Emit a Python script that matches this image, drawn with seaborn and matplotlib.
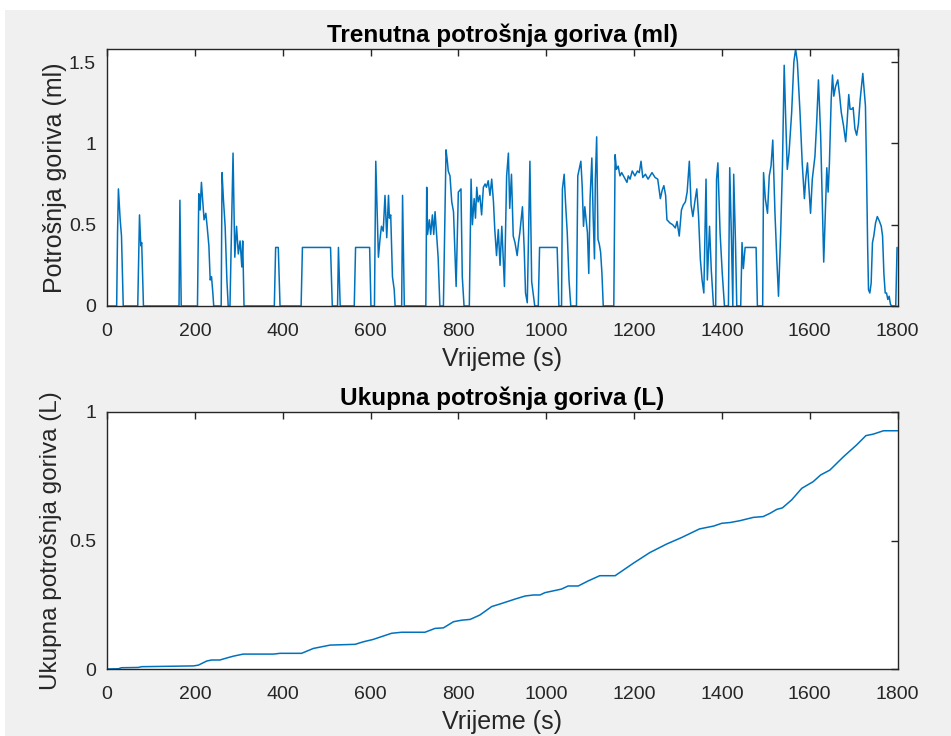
import numpy as np
import pandas as pd
import matplotlib
matplotlib.use('Agg')
import matplotlib.pyplot as plt
import seaborn as sns
from matplotlib.patches import Rectangle

sns.set_style('white')
plt.rcParams['font.family'] = ['Liberation Sans', 'DejaVu Sans']

# Trenutna potrošnja goriva (ml)
t_inst = [0, 22, 24, 26, 30, 33, 37,
          70, 74, 77, 79, 80, 83,
          164, 166, 169,
          206, 209, 212, 215, 218, 221, 225, 228, 232, 235, 238, 241, 243,
          260, 262, 265, 269, 273, 276,
          280, 287, 291, 295, 299, 303, 307, 309, 312,
          381, 384, 390, 394,
          442, 445, 509, 513,
          525, 527, 531,
          563, 566, 598, 601,
          609, 612, 618, 622, 625, 629, 633, 637, 641, 643, 646, 650, 654, 656,
          671, 673, 677,
          726, 728, 730, 734, 737, 741, 744, 747, 751, 754, 758,
          766, 772, 775, 777, 781, 785, 789, 795, 800, 806, 809, 813,
          825, 829, 832, 836, 839, 842, 845, 849, 853, 857, 861, 864, 868, 872,
          876, 880, 883, 887, 891, 895, 899, 902, 905, 910, 914, 917, 921, 925,
          929, 934, 937, 940, 946, 950, 953, 957, 963, 967, 974,
          982, 985, 1025, 1029,
          1035, 1037, 1041, 1044, 1048, 1052, 1056,
          1069, 1072, 1075, 1079, 1082, 1085, 1088, 1091, 1094, 1097, 1100,
          1104, 1107, 1110, 1112, 1115, 1118, 1121, 1124, 1127, 1130,
          1154, 1157, 1160, 1164, 1168, 1172, 1176, 1180, 1184, 1187, 1191,
          1196, 1202, 1208, 1212, 1216, 1220, 1226, 1232, 1241, 1248, 1254,
          1260, 1264, 1268, 1272, 1275, 1282, 1288, 1294, 1298, 1303, 1308,
          1312, 1317, 1321, 1326, 1330, 1334, 1339, 1343, 1347, 1351, 1355,
          1359, 1364, 1367, 1372, 1376, 1381,
          1386, 1388, 1391, 1396, 1401, 1406,
          1415, 1418, 1422, 1425, 1427, 1431, 1434,
          1443, 1446, 1449, 1453, 1478, 1481,
          1493, 1495, 1499, 1504, 1508, 1512, 1516, 1521, 1525, 1529, 1534,
          1538, 1542, 1545, 1549, 1553, 1559, 1564, 1568, 1572, 1578, 1583,
          1588, 1591, 1595, 1598, 1602, 1606, 1612, 1616, 1620, 1625, 1629,
          1632, 1636, 1639, 1642, 1645, 1649, 1652, 1655, 1659, 1664, 1668,
          1672, 1677, 1682, 1685, 1689, 1692, 1696, 1699, 1703, 1707, 1711,
          1715, 1718, 1721, 1724, 1727, 1729, 1732, 1734, 1737, 1740, 1743,
          1746, 1750, 1754, 1759, 1763, 1766, 1769, 1772, 1775, 1778, 1781,
          1784, 1787, 1796, 1799]
v_inst = [0, 0, 0.45, 0.72, 0.53, 0.43, 0,
          0, 0.56, 0.37, 0.39, 0.29, 0,
          0, 0.65, 0,
          0, 0.69, 0.59, 0.76, 0.64, 0.53, 0.57, 0.49, 0.37, 0.16, 0.18, 0.08, 0,
          0, 0.82, 0.66, 0.49, 0.16, 0,
          0, 0.94, 0.30, 0.49, 0.32, 0.40, 0.24, 0.40, 0,
          0, 0.36, 0.36, 0,
          0, 0.36, 0.36, 0,
          0, 0.36, 0,
          0, 0.36, 0.36, 0,
          0, 0.89, 0.30, 0.42, 0.49, 0.46, 0.68, 0.42, 0.68, 0.54, 0.56, 0.18, 0.10, 0,
          0, 0.68, 0,
          0, 0.73, 0.44, 0.53, 0.44, 0.56, 0.44, 0.58, 0.42, 0.30, 0,
          0, 0.96, 0.89, 0.83, 0.80, 0.64, 0.58, 0.12, 0.70, 0.72, 0.18, 0,
          0, 0.78, 0.50, 0.66, 0.54, 0.73, 0.64, 0.68, 0.56, 0.73, 0.75, 0.73, 0.77, 0.68,
          0.78, 0.64, 0.47, 0.31, 0.47, 0.25, 0.49, 0.30, 0.12, 0.80, 0.94, 0.60, 0.81, 0.43,
          0.39, 0.31, 0.39, 0.45, 0.61, 0.35, 0.08, 0.02, 0.89, 0.15, 0,
          0, 0.36, 0.36, 0,
          0, 0.72, 0.81, 0.64, 0.45, 0.16, 0,
          0, 0.80, 0.84, 0.89, 0.74, 0.49, 0.61, 0.53, 0.45, 0.20, 0.66,
          0.91, 0.55, 0.29, 0.78, 1.04, 0.41, 0.38, 0.33, 0.20, 0,
          0, 0.93, 0.84, 0.86, 0.80, 0.82, 0.80, 0.78, 0.76, 0.80, 0.78,
          0.83, 0.80, 0.83, 0.82, 0.89, 0.79, 0.81, 0.78, 0.82, 0.79, 0.78,
          0.66, 0.71, 0.74, 0.68, 0.53, 0.51, 0.50, 0.48, 0.52, 0.43, 0.59,
          0.62, 0.64, 0.70, 0.89, 0.62, 0.55, 0.65, 0.72, 0.55, 0.29, 0.16,
          0.08, 0.78, 0.16, 0.49, 0.22, 0,
          0, 0.78, 0.88, 0.45, 0.20, 0,
          0, 0.85, 0.40, 0, 0.81, 0.40, 0,
          0, 0.39, 0.23, 0.36, 0.36, 0,
          0, 0.82, 0.66, 0.57, 0.80, 0.86, 1.02, 0.57, 0.30, 0.06, 0.45,
          0.86, 1.48, 1.19, 0.84, 0.94, 1.19, 1.50, 1.58, 1.50, 1.19, 0.88,
          0.66, 0.78, 0.88, 0.74, 0.57, 0.78, 0.92, 1.13, 1.39, 1.05, 0.61,
          0.27, 0.60, 0.85, 0.70, 0.88, 1.27, 1.42, 1.29, 1.35, 1.39, 1.30,
          1.19, 1.11, 1.01, 1.12, 1.30, 1.21, 1.21, 1.22, 1.09, 1.05, 1.12,
          1.27, 1.35, 1.43, 1.33, 1.23, 0.92, 0.37, 0.10, 0.08, 0.14, 0.39,
          0.43, 0.51, 0.55, 0.52, 0.49, 0.43, 0.20, 0.08, 0.08, 0.04, 0.06,
          0.01, 0, 0, 0.36]

# Ukupna potrošnja goriva (L)
t_cum = [0, 26, 33, 71, 79, 197, 208, 227, 238, 257, 275, 288, 310, 379, 394,
         443, 470, 508, 565, 584, 606, 648, 671, 724, 747, 766, 789, 808, 827,
         849, 876, 895, 929, 952, 971, 986, 997, 1035, 1050, 1073, 1096, 1122,
         1157, 1198, 1236, 1274, 1309, 1349, 1381, 1400, 1419, 1441, 1472,
         1494, 1510, 1525, 1538, 1559, 1582, 1608, 1625, 1646, 1677, 1707,
         1728, 1745, 1768, 1800]
v_cum = [0, 0.001, 0.005, 0.006, 0.009, 0.012, 0.015, 0.031, 0.035, 0.035,
         0.044, 0.050, 0.058, 0.058, 0.061, 0.061, 0.080, 0.093, 0.096, 0.106,
         0.115, 0.139, 0.143, 0.143, 0.158, 0.160, 0.184, 0.190, 0.193, 0.210,
         0.243, 0.253, 0.272, 0.284, 0.288, 0.288, 0.297, 0.311, 0.323, 0.323,
         0.343, 0.363, 0.363, 0.411, 0.453, 0.486, 0.512, 0.545, 0.556, 0.567,
         0.570, 0.577, 0.590, 0.593, 0.606, 0.621, 0.627, 0.658, 0.703, 0.729,
         0.755, 0.774, 0.826, 0.872, 0.908, 0.914, 0.927, 0.927]

inst = pd.DataFrame({'t': t_inst, 'v': v_inst})
cum = pd.DataFrame({'t': t_cum, 'v': v_cum})

W, H = 951, 736
fig = plt.figure(figsize=(W / 100, H / 100), dpi=100, facecolor='#f0f0f0')
# white strip at top/left of the screenshot
fig.patches.append(Rectangle((0, 1 - 10 / H), 1, 10 / H, transform=fig.transFigure,
                             facecolor='white', edgecolor='none', zorder=-1))
fig.patches.append(Rectangle((0, 0), 5 / W, 1, transform=fig.transFigure,
                             facecolor='white', edgecolor='none', zorder=-1))

ax1 = fig.add_axes([107 / W, 1 - 306 / H, 790.5 / W, 257 / H])
ax2 = fig.add_axes([107 / W, 1 - 669 / H, 790.5 / W, 257 / H])

line_col = '#0072bd'
txt_col = '#262626'
sns.lineplot(data=inst, x='t', y='v', ax=ax1, color=line_col, linewidth=1.1,
             estimator=None, sort=False)
sns.lineplot(data=cum, x='t', y='v', ax=ax2, color=line_col, linewidth=1.1,
             estimator=None, sort=False)

ax1.set_ylim(0, 1.58)
ax1.set_yticks([0, 0.5, 1, 1.5])
ax1.set_yticklabels(['0', '0.5', '1', '1.5'])
ax1.set_title('Trenutna potrošnja goriva (ml)', fontsize=17.5, fontweight='bold',
              color='black', pad=5)
ax1.set_ylabel('Potrošnja goriva (ml)', fontsize=18, color=txt_col, labelpad=1)

ax2.set_ylim(0, 1)
ax2.set_yticks([0, 0.5, 1])
ax2.set_yticklabels(['0', '0.5', '1'])
ax2.set_title('Ukupna potrošnja goriva (L)', fontsize=17.5, fontweight='bold',
              color='black', pad=5)
ax2.set_ylabel('Ukupna potrošnja goriva (L)', fontsize=17.5, color=txt_col, labelpad=5)

for ax in (ax1, ax2):
    ax.set_xlim(0, 1800)
    ax.set_xticks(range(0, 1801, 200))
    ax.set_xlabel('Vrijeme (s)', fontsize=18, color=txt_col, labelpad=5)
    ax.set_facecolor('white')
    ax.tick_params(direction='in', length=5, width=1, colors=txt_col,
                   labelsize=14, top=True, right=True)
    ax.tick_params(axis='x', pad=12)
    ax.tick_params(axis='y', pad=8)
    for s in ax.spines.values():
        s.set_visible(True)
        s.set_color(txt_col)
        s.set_linewidth(1.0)

fig.savefig('out.png', dpi=100, facecolor=fig.get_facecolor())
